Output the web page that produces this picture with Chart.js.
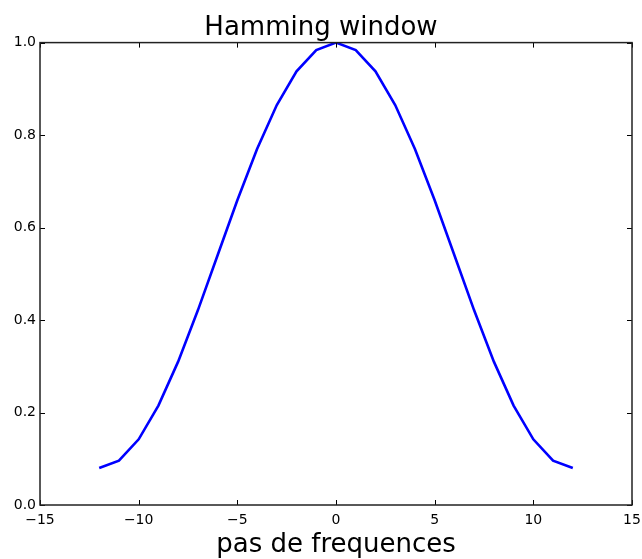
<!DOCTYPE html>
<html>
<head>
<meta charset="utf-8">
<script src="https://cdn.jsdelivr.net/npm/chart.js@4/dist/chart.umd.min.js"></script>
<style>
  html, body { margin: 0; padding: 0; background: #ffffff; }
  #c { display: block; }
</style>
</head>
<body>
<canvas id="c" width="642" height="559"></canvas>
<script>
// Data
const steps = [-12, -11, -10, -9, -8, -7, -6, -5, -4, -3, -2, -1, 0, 1, 2, 3, 4, 5, 6, 7, 8, 9, 10, 11, 12];
const windowValues = [0.080, 0.096, 0.142, 0.215, 0.310, 0.421, 0.540, 0.659, 0.770, 0.865, 0.938, 0.984, 1.000,
                      0.984, 0.938, 0.865, 0.770, 0.659, 0.540, 0.421, 0.310, 0.215, 0.142, 0.096, 0.080];
const xTicks = [-15, -10, -5, 0, 5, 10, 15];
const yTicks = [0.0, 0.2, 0.4, 0.6, 0.8, 1.0];

const FONT = "'DejaVu Sans', 'Liberation Sans', sans-serif";

const frameTicks = {
  id: 'frameTicks',
  afterDraw(chart) {
    const {ctx, chartArea: a, scales: {x, y}} = chart;
    ctx.save();
    ctx.strokeStyle = '#000';
    ctx.lineWidth = 1;
    const L = 5;
    xTicks.forEach(v => {
      const px = Math.round(x.getPixelForValue(v)) + 0.5;
      ctx.beginPath();
      ctx.moveTo(px, a.bottom); ctx.lineTo(px, a.bottom - L);
      ctx.moveTo(px, a.top); ctx.lineTo(px, a.top + L);
      ctx.stroke();
    });
    yTicks.forEach(v => {
      const py = Math.round(y.getPixelForValue(v)) + 0.5;
      ctx.beginPath();
      ctx.moveTo(a.left, py); ctx.lineTo(a.left + L, py);
      ctx.moveTo(a.right, py); ctx.lineTo(a.right - L, py);
      ctx.stroke();
    });
    ctx.strokeStyle = '#222';
    ctx.lineWidth = 1.5;
    ctx.strokeRect(a.left, a.top, a.right - a.left, a.bottom - a.top);
    ctx.restore();
  }
};

new Chart(document.getElementById('c'), {
  type: 'line',
  data: {
    datasets: [{
      data: steps.map((s, i) => ({x: s, y: windowValues[i]})),
      borderColor: '#0000ff',
      borderWidth: 2.6,
      pointRadius: 0,
      tension: 0,
      fill: false
    }]
  },
  options: {
    responsive: false,
    animation: false,
    layout: { padding: { left: 0, right: 0, top: 0, bottom: 0 } },
    plugins: {
      legend: { display: false },
      tooltip: { enabled: false },
      title: {
        display: true,
        text: 'Hamming window',
        color: '#000',
        font: { family: FONT, size: 26, weight: 'normal', lineHeight: 1.1 },
        padding: { top: 14, bottom: 0 }
      }
    },
    scales: {
      x: {
        type: 'linear',
        min: -15, max: 15,
        afterBuildTicks(scale) { scale.ticks = xTicks.map(v => ({value: v})); },
        afterFit(scale) { scale.height = 54; scale.paddingRight = 10; scale.paddingLeft = 0; },
        grid: { display: false, drawTicks: false },
        border: { display: false },
        ticks: {
          color: '#000',
          padding: 7,
          maxRotation: 0,
          font: { family: FONT, size: 14 },
          callback: v => v < 0 ? '\u2212' + Math.abs(v) : String(v)
        },
        title: {
          display: true,
          text: 'pas de frequences',
          color: '#000',
          font: { family: FONT, size: 26, lineHeight: 1.0 },
          padding: { top: 0, bottom: 1 }
        }
      },
      y: {
        type: 'linear',
        min: 0, max: 1,
        afterBuildTicks(scale) { scale.ticks = yTicks.map(v => ({value: v})); },
        afterFit(scale) { scale.width = 40; },
        grid: { display: false, drawTicks: false },
        border: { display: false },
        ticks: {
          color: '#000',
          padding: 4,
          font: { family: FONT, size: 14 },
          callback: v => Number(v).toFixed(1)
        }
      }
    }
  },
  plugins: [frameTicks]
});
</script>
</body>
</html>
